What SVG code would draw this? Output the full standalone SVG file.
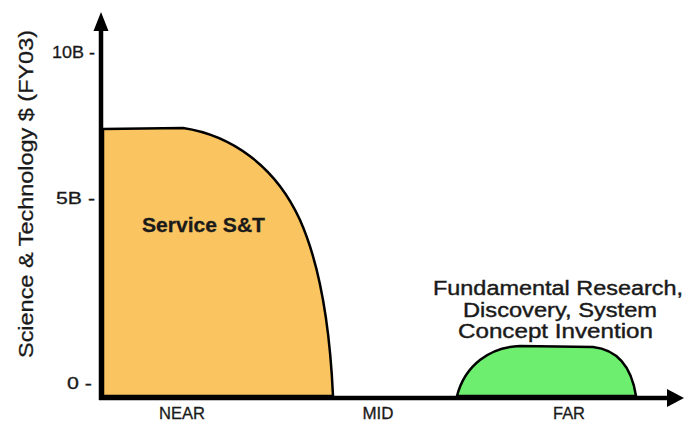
<svg xmlns="http://www.w3.org/2000/svg" width="693" height="422" viewBox="0 0 693 422">
<style>
.t{font-family:"Liberation Sans",Arial,sans-serif;fill:#1a1a1a;stroke:#1a1a1a;stroke-width:0.3}
.tick{font-size:17px}
.ax{font-size:17px}
.lbl{font-size:20px;stroke-width:0.4}
.shape{stroke:#000;stroke-width:2.5;stroke-linejoin:round}
</style>
<rect width="693" height="422" fill="#fff"/>
<g id="service">
<path class="shape" d="M103,396 L103,129 L183,128 C230,135 275,165 300,220 C320,265 330,330 333,396 Z" fill="#FAC560"/>
<text class="t" x="142" y="232" font-size="20" font-weight="bold" stroke-width="0" textLength="123" lengthAdjust="spacingAndGlyphs">Service S&amp;T</text>
</g>
<g id="fundamental">
<path class="shape" d="M457,396 C465,365 490,347 520,346 L593,347 C620,350 632,370 636,396 Z" fill="#6EEE6E"/>
<text class="t lbl" x="433" y="295" textLength="250" lengthAdjust="spacingAndGlyphs">Fundamental Research,</text>
<text class="t lbl" x="463" y="317" textLength="194" lengthAdjust="spacingAndGlyphs">Discovery, System</text>
<text class="t lbl" x="458" y="338" textLength="195" lengthAdjust="spacingAndGlyphs">Concept Invention</text>
</g>
<g id="axes">
<line x1="101" y1="400" x2="101" y2="28" stroke="#000" stroke-width="4.5"/>
<polygon points="101,12 108.5,31 93.5,31" fill="#000"/>
<line x1="99" y1="398" x2="668" y2="398" stroke="#000" stroke-width="4.5"/>
<polygon points="684,398 667,389 667,407" fill="#000"/>
</g>
<g id="labels">
<text class="t tick" x="52" y="58" textLength="43" lengthAdjust="spacingAndGlyphs">10B -</text>
<text class="t tick" x="56" y="204" textLength="39" lengthAdjust="spacingAndGlyphs">5B -</text>
<text class="t tick" x="67" y="389" textLength="25" lengthAdjust="spacingAndGlyphs">0 -</text>
<text class="t ax" x="182" y="419" text-anchor="middle" textLength="46" lengthAdjust="spacingAndGlyphs">NEAR</text>
<text class="t ax" x="378" y="419" text-anchor="middle" textLength="31" lengthAdjust="spacingAndGlyphs">MID</text>
<text class="t ax" x="569" y="419" text-anchor="middle" textLength="32" lengthAdjust="spacingAndGlyphs">FAR</text>
<text class="t" font-size="21" transform="translate(33,194) rotate(-90)" text-anchor="middle" textLength="328" lengthAdjust="spacingAndGlyphs">Science &amp; Technology $ (FY03)</text>
</g>
</svg>
